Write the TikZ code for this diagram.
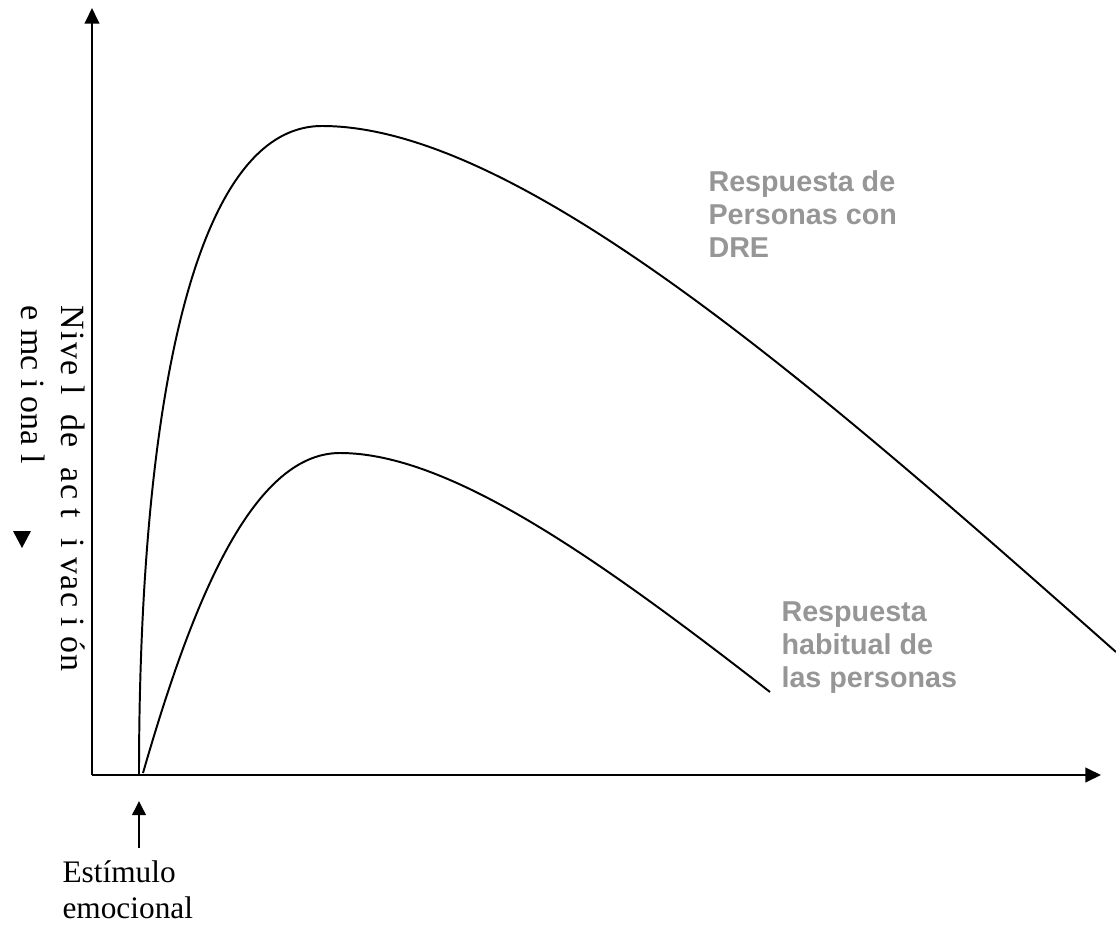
\documentclass[tikz,border=0pt]{standalone}
\usepackage{fontspec}
\setmainfont{Liberation Serif}
\newfontfamily\labelfont{Liberation Sans}
\usetikzlibrary{arrows.meta}
\definecolor{labelgray}{RGB}{150,150,150}

\begin{document}
\begin{tikzpicture}[x=0.383pt, y=-0.383pt,
    axis/.style={line width=0.8pt, -{Triangle[length=6pt, width=5.6pt]}},
    curve/.style={line width=0.75pt},
    resp/.style={align=left, anchor=north west, inner sep=0pt, text=labelgray,
        font=\labelfont\bfseries\fontsize{11}{12.6}\selectfont},
    plain/.style={align=left, anchor=north west, inner sep=0pt, font=\fontsize{12}{13.8}\selectfont}]
    \useasboundingbox (0,0) rectangle (1116,926);

    \coordinate (origin) at (92,775);
    \coordinate (ytop) at (92,8);
    \coordinate (xend) at (1101,775);
    \coordinate (onset) at (139,775);
    \coordinate (stimbase) at (139,848);
    \coordinate (stimtip) at (139,801);

    \draw[axis] (origin) -- (ytop);
    \draw[axis] (origin) -- (xend);
    \draw[line width=0.8pt, -{Triangle[length=5.4pt, width=5.2pt]}] (stimbase) -- (stimtip);

    % curva DRE
    \draw[curve] (onset) .. controls (139,420) and (190,126) .. (322,126)
        .. controls (520,126) and (820,390) .. (1116,652);
    % curva habitual
    \draw[curve] (143,773) .. controls (190,610) and (250,453) .. (340,453)
        .. controls (450,453) and (600,560) .. (770,692);

    \node[resp] (dre) at (708,170) {Respuesta de\\Personas con\\DRE};
    \node[resp] (habitual) at (781,601) {Respuesta\\habitual de\\las personas};

    \node[plain] (estimulo) at (62,860) {Estímulo\\emocional};
    \node[plain, rotate=-90, font=\fontsize{13}{15.5}\selectfont]
        (nivel) at (86,305) {{\addfontfeatures{LetterSpace=4}Nive l\ \ de\ \ ac t\ \ i vac i ón}\\e mc i ona l};
    \fill (13,531) -- (31,531) -- (22,548) -- cycle;
\end{tikzpicture}
\end{document}
